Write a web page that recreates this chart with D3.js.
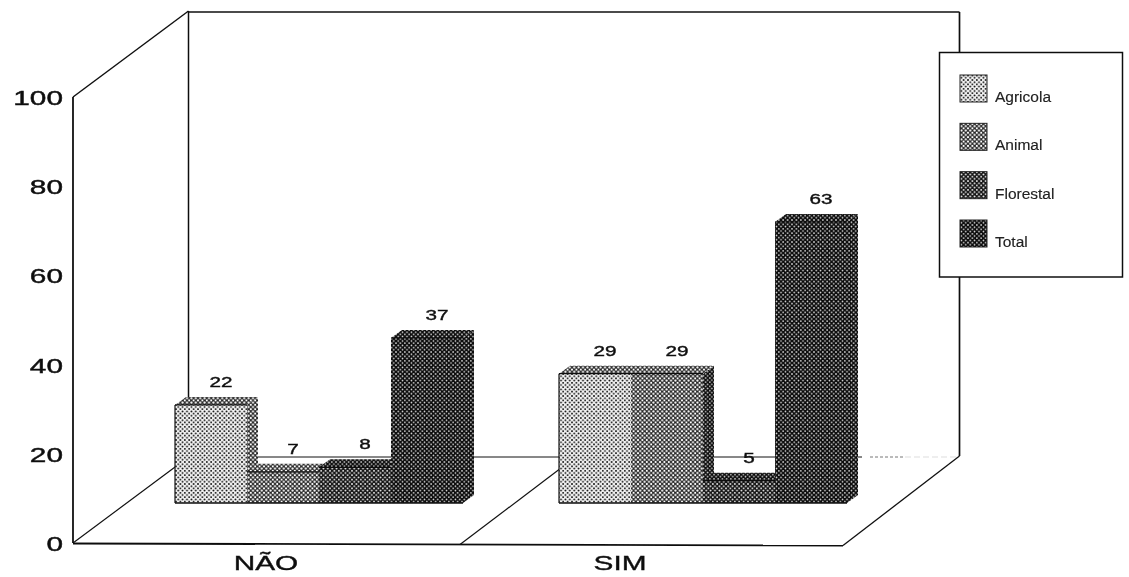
<!DOCTYPE html>
<html><head><meta charset="utf-8">
<script src="https://cdn.jsdelivr.net/npm/d3@7"></script>
<style>html,body{margin:0;padding:0;background:#fff;overflow:hidden}svg{display:block}</style>
</head><body><svg id="c" width="1129" height="577"></svg>
<script>
const categories = ["NÃO", "SIM"];
const seriesNames = ["Agricola", "Animal", "Florestal", "Total"];
const valuesNao = [22, 7, 8, 37];
const valuesSim = [29, 29, 5, 63];
const yTicks = [0, 20, 40, 60, 80, 100];

const svg = d3.select("#c");
const defs = svg.append("defs");
defs.append("filter").attr("id","scan").attr("x",0).attr("y",0).attr("width",1).attr("height",1)
  .append("feGaussianBlur").attr("stdDeviation",0.42);

// halftone fills: [id, background, dot colour, cell, dot radius]
const tones = [
  ["tA","#f2f2f2","#000",4.4,0.95],
  ["tB","#262626","#fff",4.4,1.08],
  ["tC","#161616","#f4f4f4",4.4,0.95],
  ["tD","#0a0a0a","#eee",4.4,0.8],
  ["tS","#101010","#ddd",4.2,0.8],
];
tones.forEach(([id,bg,fg,s,r])=>{
  const p = defs.append("pattern").attr("id",id).attr("patternUnits","userSpaceOnUse").attr("width",s).attr("height",s);
  p.append("rect").attr("width",s).attr("height",s).attr("fill",bg);
  [[0,0],[s,0],[0,s],[s,s],[s/2,s/2]].forEach(([x,y])=>p.append("circle").attr("cx",x).attr("cy",y).attr("r",r).attr("fill",fg));
});
const faceFill = ["url(#tA)","url(#tB)","url(#tC)","url(#tD)"];
const topFill  = ["url(#tB)","url(#tB)","url(#tS)","url(#tD)"];
const sideFill = ["url(#tB)","url(#tS)","url(#tD)","url(#tD)"];

const root = svg.append("g").attr("filter","url(#scan)");
root.append("rect").attr("width",1129).attr("height",577).attr("fill","#fff");

// scales
const y = d3.scaleLinear().domain([0,100]).range([543,97]);
const floorX = d3.scaleLinear().domain([0,1]).range([73,843]);
const wallDx = 115.5, wallDy = -86;          // box depth
const baseDy = -40;                          // bar row position on the floor
const barDx = 11, barDy = -8;                // bar depth
const x0 = d3.scalePoint().domain(categories).range([175,559]);
const x1 = d3.scaleBand().domain(seriesNames).range([0,288]);

const line = (x1_,y1_,x2_,y2_,w=1.5,c="#111",dash=null)=>root.append("line")
  .attr("x1",x1_).attr("y1",y1_).attr("x2",x2_).attr("y2",y2_)
  .attr("stroke",c).attr("stroke-width",w).attr("stroke-dasharray",dash);

const fx0 = floorX(0), fx1 = floorX(1), fy0 = y(0), fyT = y(100);
// back wall
line(fx0+wallDx, fyT+wallDy+1, fx1+wallDx+1, fyT+wallDy+1, 1.7);
line(fx0+wallDx, fyT+wallDy, fx0+wallDx, fy0+wallDy, 1.5);
line(fx1+wallDx+1, fyT+wallDy+1, fx1+wallDx+1, fy0+wallDy-1, 1.7);
line(fx0+wallDx, fy0+wallDy, 862, fy0+wallDy, 1);
line(870, fy0+wallDy, 905, fy0+wallDy, 1, "#777", "3 2");
line(905, fy0+wallDy, fx1+wallDx, fy0+wallDy, 1, "#ddd", "6 3");
// left wall
line(fx0, fyT, fx0, fy0, 1.8);
line(fx0, fyT, fx0+wallDx, fyT+wallDy, 1.5);
// floor
line(fx0, fy0, fx0+wallDx, fy0+wallDy, 1.2);
line(fx0, fy0+0.5, fx1, fy0+2.5, 1.8);
line(fx1, fy0+2.5, fx1+wallDx+1, fy0+wallDy-1, 1.3);
const mid = floorX(0.5);
line(mid+2, fy0+1.5, mid+2+wallDx, fy0+wallDy, 1.2);

// y axis
const axis = root.append("g").attr("transform",`translate(${fx0},0)`)
  .call(d3.axisLeft(y).tickValues(yTicks).tickSize(0).tickPadding(0));
axis.select(".domain").remove();
axis.selectAll("text")
  .attr("font-family","'Liberation Sans',Arial,sans-serif").attr("font-size",21).attr("fill","#111")
  .attr("stroke","#111").attr("stroke-width",0.45)
  .attr("x",-10/1.42).attr("dy","0.36em").attr("transform","scale(1.42,1)");

// category labels
const catX = {"NÃO":266,"SIM":620};
root.append("g").selectAll("text").data(categories).join("text")
  .attr("transform",d=>`translate(${catX[d]},570) scale(1.42,1)`)
  .attr("text-anchor","middle").attr("font-family","'Liberation Sans',Arial,sans-serif")
  .attr("font-size",21).attr("fill","#111").attr("stroke","#111").attr("stroke-width",0.4).text(d=>d);

// bars
const rows = categories.map((c,i)=>({c, v:[valuesNao,valuesSim][i]}));
const bw = x1.bandwidth();
const base = y(0)+baseDy;
const h0 = y(0);
rows.forEach(r=>{
  const g = root.append("g");
  r.v.forEach((v,i)=>{
    const name = seriesNames[i];
    const xL = x0(r.c)+x1(name), xR = xL+bw;
    const top = base-(h0-y(v));
    const poly = pts=>pts.map(p=>p.join(",")).join(" ");
    g.append("polygon").attr("points",poly([[xR,top],[xR+barDx,top+barDy],[xR+barDx,base+barDy],[xR,base]]))
      .attr("fill",sideFill[i]);
    g.append("polygon").attr("points",poly([[xL,top],[xL+barDx,top+barDy],[xR+barDx,top+barDy],[xR,top]]))
      .attr("fill",topFill[i]);
    g.append("rect").attr("x",xL).attr("y",top).attr("width",bw).attr("height",base-top)
      .attr("fill",faceFill[i]);
    g.append("line").attr("x1",xL).attr("x2",xR).attr("y1",top).attr("y2",top).attr("stroke","#111").attr("stroke-width",1.2);
    g.append("line").attr("x1",xL).attr("x2",xR).attr("y1",base).attr("y2",base).attr("stroke","#111").attr("stroke-width",1.6);
    if(i===0) g.append("line").attr("x1",xL).attr("x2",xL).attr("y1",top).attr("y2",base).attr("stroke","#111").attr("stroke-width",1.2);
  });
  r.v.forEach((v,i)=>{
    const xL = x0(r.c)+x1(seriesNames[i]);
    const top = base-(h0-y(v));
    g.append("text").attr("transform",`translate(${xL+bw/2+10},${top-18}) scale(1.38,1)`)
      .attr("text-anchor","middle").attr("font-family","'Liberation Sans',Arial,sans-serif")
      .attr("font-size",15).attr("fill","#111").attr("stroke","#111").attr("stroke-width",0.4).text(v);
  });
});

// legend
root.append("rect").attr("x",939.5).attr("y",52.5).attr("width",183).attr("height",224.5)
  .attr("fill","#fff").attr("stroke","#111").attr("stroke-width",1.5);
const legY = d3.scalePoint().domain(seriesNames).range([102,247]);
const leg = root.append("g").selectAll("g").data(seriesNames).join("g")
  .attr("transform",d=>`translate(0,${legY(d)})`);
leg.append("rect").attr("x",960).attr("y",-27).attr("width",27).attr("height",27)
  .attr("fill",(d,i)=>faceFill[i]).attr("stroke","#222").attr("stroke-width",1);
leg.append("text").attr("x",995).attr("y",0).attr("font-family","'Liberation Sans',Arial,sans-serif")
  .attr("font-size",15.5).attr("fill","#222").attr("stroke","#222").attr("stroke-width",0.15).text(d=>d);
</script></body></html>
